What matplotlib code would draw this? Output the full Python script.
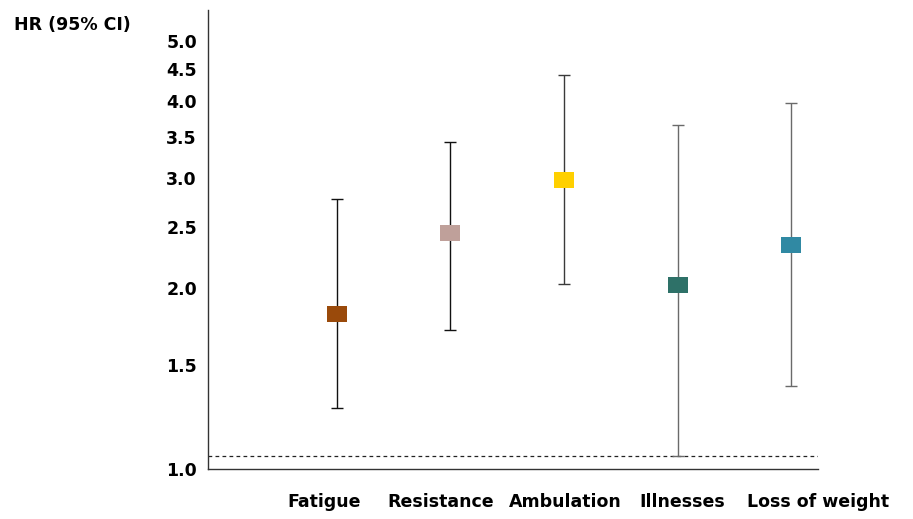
import numpy as np
import matplotlib
matplotlib.use("Agg")
import matplotlib.pyplot as plt

# hazard ratios with 95% CI per domain
labels = ["Fatigue", "Resistance", "Ambulation", "Illnesses", "Loss of weight"]
hr = [1.81, 2.45, 2.98, 2.02, 2.34]
ci_low = [1.28, 1.71, 2.03, 1.07, 1.39]
ci_high = [2.78, 3.43, 4.40, 3.65, 3.97]
ref_line = 1.07
ytick_vals = [1.02, 1.5, 2.0, 2.5, 3.0, 3.5, 4.0, 4.5, 5.0]
ytick_labels = ["1.0", "1.5", "2.0", "2.5", "3.0", "3.5", "4.0", "4.5", "5.0"]

colors = ["#9A4A0B", "#BFA09A", "#FFD000", "#2E7168", "#3089A3"]
line_colors = ["#111111", "#111111", "#3a3a3a", "#6a6a6a", "#6a6a6a"]
label_shift = [-0.11, -0.09, 0.01, 0.04, 0.235]

plt.rcParams["font.family"] = "DejaVu Sans"
plt.rcParams["font.weight"] = "bold"

fig = plt.figure(figsize=(9.13, 5.19), dpi=100)
ax = fig.add_axes([208/913, 50/519, 610/913, 459/519])

x = np.arange(len(labels))
# wide rectangle marker
rect = [(-1, -0.78), (1, -0.78), (1, 0.78), (-1, 0.78), (-1, -0.78)]

ax.axhline(ref_line, color="#222222", lw=0.9, linestyle=(0, (3.0, 2.6)), zorder=1)

for i in range(len(labels)):
    err = [[hr[i] - ci_low[i]], [ci_high[i] - hr[i]]]
    ax.errorbar(x[i], hr[i], yerr=err, fmt="none", ecolor=line_colors[i],
                elinewidth=1.0, capsize=4.0, capthick=1.0, zorder=2)
    ax.plot(x[i], hr[i], marker=rect, markersize=14.4, color=colors[i],
            markeredgewidth=0, linestyle="none", zorder=3)

ax.set_yscale("log")
ax.set_ylim(1.02, 5.6)
ax.set_xlim(-1.134, 4.123)
ax.set_yticks(ytick_vals)
ax.set_yticklabels(ytick_labels)
ax.minorticks_off()
ax.set_xticks(x + np.array(label_shift))
ax.set_xticklabels(labels)
ax.tick_params(axis="both", length=0, labelsize=12.5)
ax.tick_params(axis="y", pad=8)
ax.tick_params(axis="x", pad=17)

for s in ["top", "right"]:
    ax.spines[s].set_visible(False)
for s in ["left", "bottom"]:
    ax.spines[s].set_color("#333333")
    ax.spines[s].set_linewidth(1.0)

fig.text(14/913, 1 - 24.5/519, "HR (95% CI)", ha="left", va="center",
         fontsize=12.5, fontweight="bold")

fig.savefig("out.png", dpi=100)
